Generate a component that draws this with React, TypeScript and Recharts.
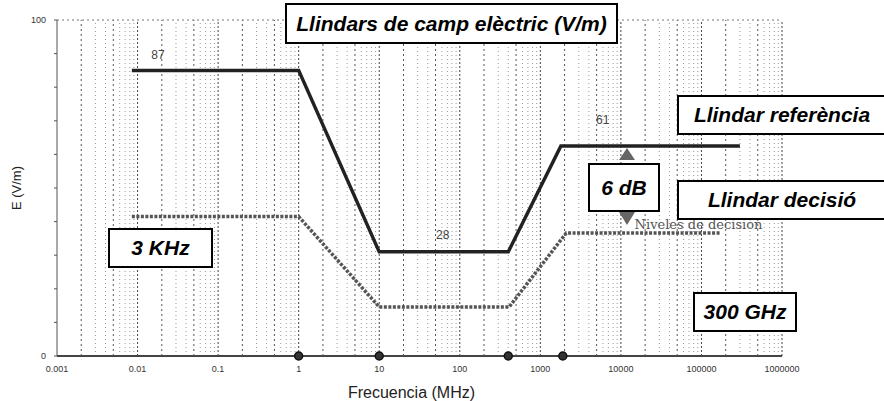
import React from "react";
import { ComposedChart, Line, XAxis, YAxis, ReferenceLine, ReferenceDot, Label } from "recharts";

// decades of the log frequency axis (MHz)
const decades = [0.001, 0.01, 0.1, 1, 10, 100, 1000, 10000, 100000, 1000000];
const tickLabels = ["0.001", "0.01", "0.1", "1", "10", "100", "1000", "10000", "100000", "1000000"];
const yTicks = [0, 10, 20, 30, 40, 50, 60, 70, 80, 90, 100];

// reference threshold (V/m)
const referenceFreq = [0.0085, 1, 10, 400, 1800, 300000];
const referenceLevel = [85, 85, 31, 31, 62.5, 62.5];

// decision threshold (V/m)
const decisionFreq = [0.0085, 1, 10, 410, 2100, 170000];
const decisionLevel = [41.5, 41.5, 14.6, 14.6, 36.6, 36.6];

// circled markers on the frequency axis
const markerFreqs = [1, 10, 400, 1900];

// numbers printed near the curve
const valueNotes = [
  { f: 0.0179, e: 89.6, text: "87" },
  { f: 61.5, e: 36, text: "28" },
  { f: 5940, e: 70.2, text: "61" },
];

const referenceData = referenceFreq.map((f, i) => ({ f, e: referenceLevel[i] }));
const decisionData = decisionFreq.map((f, i) => ({ f, e: decisionLevel[i] }));

// minor grid values 2..9 in every decade
const minorGrid: number[] = [];
decades.slice(0, -1).forEach((d) => {
  for (let m = 2; m <= 9; m++) minorGrid.push(d * m);
});

const font = "'Liberation Sans', Arial, sans-serif";

const boxStyle = (left: number, top: number, width: number, height: number): React.CSSProperties => ({
  position: "absolute",
  left,
  top,
  width,
  height,
  boxSizing: "border-box",
  border: "2px solid #000",
  background: "#fff",
  display: "flex",
  alignItems: "center",
  justifyContent: "center",
  fontFamily: font,
  fontWeight: "bold",
  fontStyle: "italic",
  fontSize: 21,
  color: "#000",
  whiteSpace: "nowrap",
});

const renderYTick = (props: any) => {
  const { x, y, payload } = props;
  if (payload.value !== 0 && payload.value !== 100) return <g />;
  return (
    <text x={x - 6} y={y} dy={3} textAnchor="end" fontSize={9} fill="#333" fontFamily={font}>
      {payload.value}
    </text>
  );
};

export default function App() {
  return (
    <div style={{ position: "absolute", left: 0, top: 0, width: 884, height: 401, background: "#fff" }}>
      <ComposedChart width={884} height={401} margin={{ top: 20, right: 102, bottom: 0, left: 0 }}>
        <XAxis
          dataKey="f"
          type="number"
          scale="log"
          domain={[0.001, 1000000]}
          ticks={decades}
          allowDataOverflow
          height={45}
          stroke="#444"
          strokeWidth={2}
          tickSize={0}
          tickMargin={10}
          tick={{ fontSize: 9, fill: "#333", fontFamily: font }}
          tickFormatter={(v: number) => tickLabels[decades.indexOf(v)] ?? String(v)}
        >
          <Label value="Frecuencia (MHz)" position="insideBottom" offset={3} dx={-8} style={{ fontSize: 16, fill: "#222", fontFamily: font }} />
        </XAxis>
        <YAxis
          dataKey="e"
          type="number"
          domain={[0, 100]}
          ticks={yTicks}
          width={57}
          stroke="#555"
          tickSize={3}
          tick={renderYTick}
        >
          <Label value="E (V/m)" angle={-90} position="center" dx={-12} style={{ fontSize: 13, fill: "#222", fontFamily: font }} />
        </YAxis>

        {minorGrid.map((v) => {
          const m = Math.round(v / Math.pow(10, Math.floor(Math.log10(v) + 1e-9)));
          const strong = m === 2 || m === 5;
          return (
            <ReferenceLine
              key={`g-${v}`}
              x={v}
              stroke={strong ? "#555" : "#999"}
              strokeDasharray={strong ? "2 3" : "1 3"}
            />
          );
        })}
        {decades.slice(1).map((v) => (
          <ReferenceLine key={`d-${v}`} x={v} stroke="#444" strokeDasharray="2 2" />
        ))}
        <ReferenceLine y={100} stroke="#777" strokeDasharray="2 3" />

        <Line
          data={decisionData}
          dataKey="e"
          type="linear"
          stroke="#555"
          strokeWidth={3.5}
          strokeDasharray="3 1.5"
          dot={false}
          isAnimationActive={false}
        />
        <Line
          data={referenceData}
          dataKey="e"
          type="linear"
          stroke="#222"
          strokeWidth={3.5}
          dot={false}
          isAnimationActive={false}
        />

        {markerFreqs.map((f) => (
          <ReferenceDot key={`m-${f}`} x={f} y={0} r={4} fill="#333" stroke="#111" strokeWidth={1.5} ifOverflow="visible" />
        ))}
        {valueNotes.map((n) => (
          <ReferenceDot key={`n-${n.text}`} x={n.f} y={n.e} r={0} stroke="none" fill="none">
            <Label value={n.text} position="center" style={{ fontSize: 12, fill: "#444", fontFamily: font }} />
          </ReferenceDot>
        ))}
        <ReferenceDot x={92000} y={39.3} r={0} stroke="none" fill="none">
          <Label value="Niveles de decisión" position="center" style={{ fontSize: 13, fill: "#555", fontFamily: "'DejaVu Serif', serif" }} />
        </ReferenceDot>
      </ComposedChart>

      <svg style={{ position: "absolute", left: 0, top: 0 }} width={884} height={401}>
        <polygon points="619,160 627,148 635,160" fill="#666" />
        <polygon points="619,212 627,225 635,212" fill="#666" />
      </svg>

      <div style={boxStyle(285, 3, 333, 41)}>Llindars de camp elèctric (V/m)</div>
      <div style={boxStyle(677, 95, 210, 40)}>Llindar referència</div>
      <div style={boxStyle(677, 180, 210, 40)}>Llindar decisió</div>
      <div style={boxStyle(588, 163, 72, 49)}>6 dB</div>
      <div style={boxStyle(108, 228, 105, 40)}>3 KHz</div>
      <div style={boxStyle(693, 292, 104, 40)}>300 GHz</div>
    </div>
  );
}
